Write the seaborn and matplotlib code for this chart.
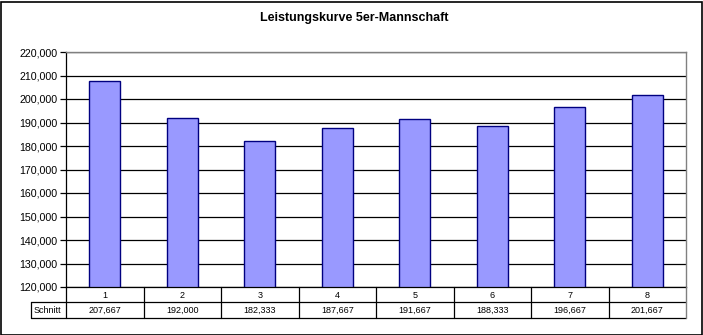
import matplotlib
matplotlib.use("Agg")
import matplotlib.pyplot as plt
from matplotlib.lines import Line2D
from matplotlib.patches import Rectangle
import matplotlib.ticker as mticker
import seaborn as sns
import pandas as pd

# Average score per match day for the 5-player team
spieltage = ["1", "2", "3", "4", "5", "6", "7", "8"]
schnitt = [207.667, 192.000, 182.333, 187.667, 191.667, 188.333, 196.667, 201.667]
schnitt_labels = ["207,667", "192,000", "182,333", "187,667", "191,667", "188,333", "196,667", "201,667"]
zeilen_titel = "Schnitt"
titel = "Leistungskurve 5er-Mannschaft"

df = pd.DataFrame({"Spieltag": spieltage, "Schnitt": schnitt})

sns.set_theme(style="white")
plt.rcParams["font.family"] = ["Liberation Sans", "DejaVu Sans"]

W, H = 703, 335
fig = plt.figure(figsize=(W / 100, H / 100), dpi=100)
fig.patch.set_facecolor("white")

# plot area in pixel coordinates
x0, x1, y_top, y_bot = 66, 686, 52, 287
ax = fig.add_axes([x0 / W, 1 - y_bot / H, (x1 - x0) / W, (y_bot - y_top) / H])

sns.barplot(data=df, x="Spieltag", y="Schnitt", order=spieltage, ax=ax,
            color="#9999FF", edgecolor="#000080", linewidth=1.0, width=0.4,
            saturation=1)

ax.set_ylim(120, 220)
ax.set_xlim(-0.5, len(spieltage) - 0.5)
ax.yaxis.set_major_locator(mticker.MultipleLocator(10))
ax.yaxis.set_major_formatter(mticker.FuncFormatter(lambda v, p: f"{v:.3f}".replace(".", ",")))
ax.grid(axis="y", color="black", linewidth=0.9)
ax.set_axisbelow(True)
ax.set_xlabel("")
ax.set_ylabel("")
ax.set_xticks([])
ax.tick_params(axis="y", which="major", left=True, length=4, width=0.9, color="black",
               labelsize=7.7, labelcolor="#000000", pad=2)
for side in ["top", "right"]:
    ax.spines[side].set_color("#808080")
    ax.spines[side].set_linewidth(1.0)
ax.spines["left"].set_color("black")
ax.spines["bottom"].set_color("black")
ax.spines["left"].set_linewidth(0.9)
ax.spines["bottom"].set_linewidth(0.9)

# data table under the plot area
def fx(px):
    return px / W

def fy(py):
    return 1 - py / H

row1_bot, row2_bot, label_left = 302, 318, 31
col_w = (x1 - x0) / len(spieltage)
lw = 0.9
lines = []
lines.append(Line2D([fx(x0), fx(x0)], [fy(y_bot), fy(row2_bot)], color="black", lw=lw))
lines.append(Line2D([fx(label_left), fx(x1)], [fy(row1_bot), fy(row1_bot)], color="black", lw=lw))
lines.append(Line2D([fx(label_left), fx(x1)], [fy(row2_bot), fy(row2_bot)], color="black", lw=lw))
lines.append(Line2D([fx(label_left), fx(label_left)], [fy(row1_bot), fy(row2_bot)], color="black", lw=lw))
for i in range(1, len(spieltage)):
    xp = x0 + i * col_w
    lines.append(Line2D([fx(xp), fx(xp)], [fy(y_bot), fy(row2_bot)], color="black", lw=lw))
lines.append(Line2D([fx(x1), fx(x1)], [fy(y_bot), fy(row2_bot)], color="#808080", lw=1.0))
for ln in lines:
    fig.add_artist(ln)

for i, (tag, lab) in enumerate(zip(spieltage, schnitt_labels)):
    xc = x0 + (i + 0.5) * col_w
    fig.text(fx(xc), fy((y_bot + row1_bot) / 2 + 0.5), tag, ha="center", va="center",
             fontsize=6.5, color="black")
    fig.text(fx(xc), fy((row1_bot + row2_bot) / 2 + 0.5), lab, ha="center", va="center",
             fontsize=6.5, color="black")
fig.text(fx(label_left + 3), fy((row1_bot + row2_bot) / 2 + 0.5), zeilen_titel,
         ha="left", va="center", fontsize=6.5, color="black")

fig.text(fx(354), fy(18), titel, ha="center", va="center", fontsize=9,
         fontweight="bold", color="#000000")

# outer chart border
fig.add_artist(Rectangle((0.5 / W, 0.5 / H), (W - 2) / W, (H - 2) / H, transform=fig.transFigure,
                         fill=False, edgecolor="black", linewidth=1.2))

fig.savefig("out.png", dpi=100)
